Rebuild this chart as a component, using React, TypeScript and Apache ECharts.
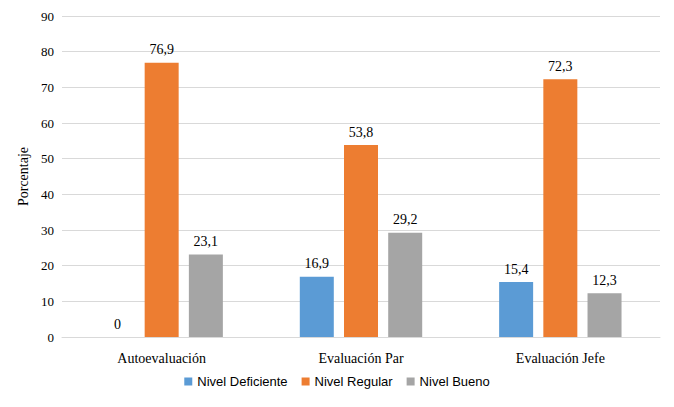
import { useRef, useEffect } from "react"
import * as echarts from "echarts"

const categories = ["Autoevaluación", "Evaluación Par", "Evaluación Jefe"]
const deficiente = [0, 16.9, 15.4]
const regular = [76.9, 53.8, 72.3]
const bueno = [23.1, 29.2, 12.3]

const serif = "'Liberation Serif', 'Times New Roman', serif"

export default function App() {
  const chartRef = useRef<HTMLDivElement>(null)

  useEffect(() => {
    if (!chartRef.current) return
    const instance = echarts.init(chartRef.current, null, { renderer: "svg" })

    const label = {
      show: true,
      position: "top",
      distance: 6,
      color: "#000",
      fontFamily: serif,
      fontSize: 14,
      formatter: (p: any) => String(p.value).replace(".", ","),
    }

    const bar = (name: string, data: number[], color: string) => ({
      name,
      type: "bar",
      data,
      barWidth: 34,
      barGap: "30%",
      itemStyle: { color },
      label,
    })

    instance.setOption({
      animation: false,
      grid: { left: 52, right: 6, top: 8, bottom: 62 },
      legend: {
        bottom: 6,
        itemWidth: 8,
        itemHeight: 8,
        itemGap: 14,
        icon: "rect",
        textStyle: { color: "#000", fontSize: 13, fontFamily: "'Liberation Sans', Arial, sans-serif" },
      },
      xAxis: {
        type: "category",
        data: categories,
        axisLine: { lineStyle: { color: "#d9d9d9" } },
        axisTick: { show: false },
        axisLabel: { color: "#000", fontFamily: serif, fontSize: 14, margin: 14 },
      },
      yAxis: {
        type: "value",
        min: 0,
        max: 90,
        interval: 10,
        name: "Porcentaje",
        nameLocation: "middle",
        nameGap: 32,
        nameTextStyle: { color: "#000", fontFamily: serif, fontSize: 14 },
        axisLabel: { color: "#000", fontFamily: serif, fontSize: 13 },
        splitLine: { lineStyle: { color: "#d9d9d9" } },
      },
      series: [
        bar("Nivel Deficiente", deficiente, "#5b9bd5"),
        bar("Nivel Regular", regular, "#ed7d31"),
        bar("Nivel Bueno", bueno, "#a5a5a5"),
      ],
    })

    return () => instance.dispose()
  }, [])

  return <div ref={chartRef} style={{ width: 658, height: 391 }} />
}
